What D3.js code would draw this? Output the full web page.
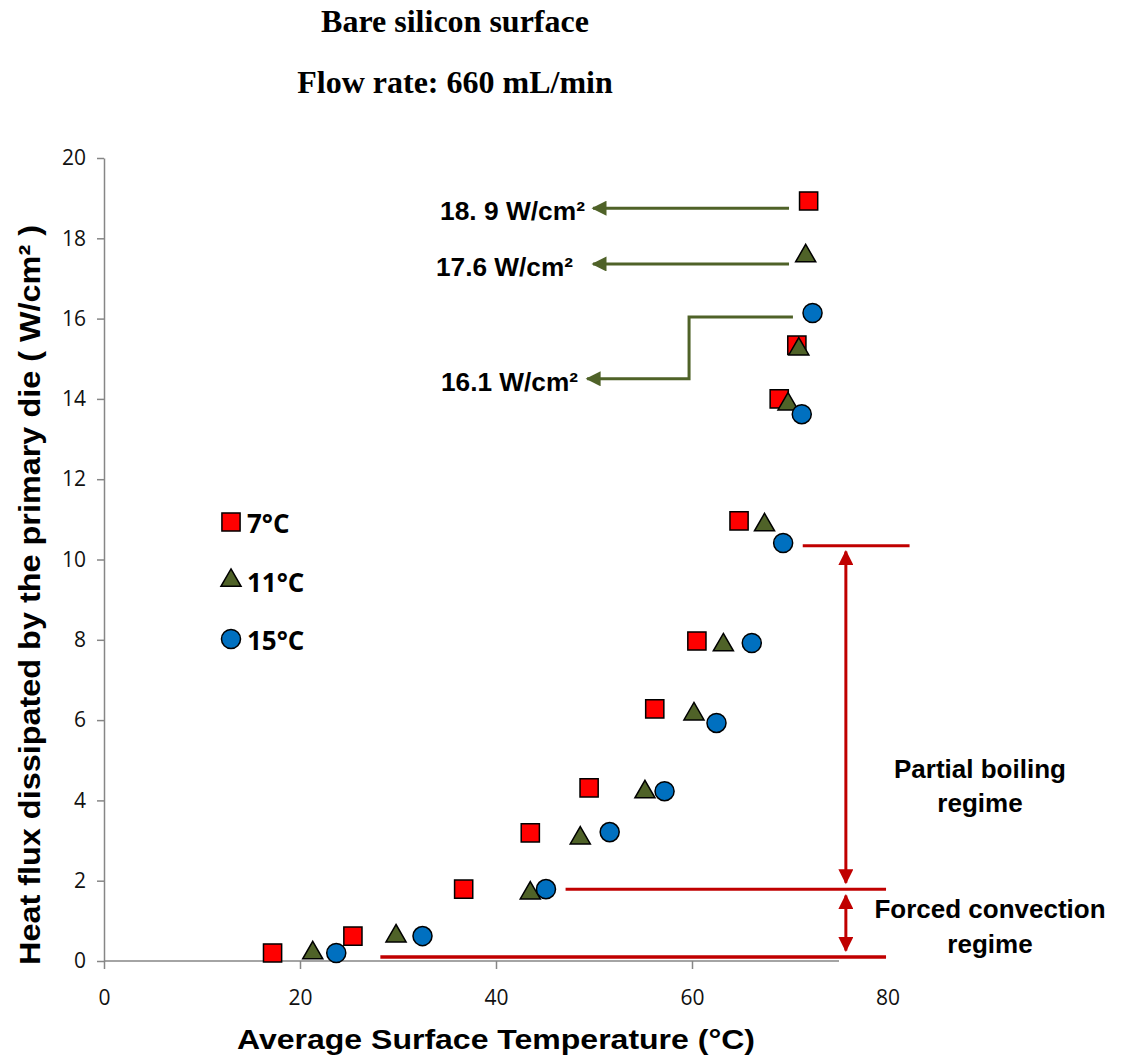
<!DOCTYPE html>
<html>
<head>
<meta charset="utf-8">
<script src="https://cdn.jsdelivr.net/npm/d3@7"></script>
<style>
  body { margin: 0; background: #fff; }
  svg { display: block; }
</style>
</head>
<body>
<figure id="chart" style="margin:0"></figure>
<script>
// surface temperature (°C) and heat flux (W/cm²) per inlet temperature
const temp7 = [17.2, 25.4, 36.7, 43.5, 49.5, 56.2, 60.5, 64.8, 68.9, 70.7, 71.9];
const flux7 = [0.2, 0.62, 1.79, 3.19, 4.31, 6.28, 7.97, 10.96, 14.0, 15.34, 18.93];
const temp11 = [21.3, 29.8, 43.5, 48.6, 55.2, 60.2, 63.2, 67.4, 69.8, 70.9, 71.6];
const flux11 = [0.2, 0.62, 1.69, 3.06, 4.21, 6.15, 7.87, 10.86, 13.87, 15.24, 17.56];
const temp15 = [23.7, 32.5, 45.1, 51.6, 57.2, 62.5, 66.1, 69.3, 71.2, 72.3];
const flux15 = [0.2, 0.62, 1.79, 3.21, 4.23, 5.93, 7.92, 10.41, 13.62, 16.14];

const seriesNames = ["7°C", "11°C", "15°C"];
const xTicks = [0, 20, 40, 60];
const yTicks = [0, 2, 4, 6, 8, 10, 12, 14, 16, 18, 20];
const peakLabels = ["18. 9 W/cm²", "17.6 W/cm²", "16.1 W/cm²"];

const width = 1125, height = 1057;
const fill = { sq: "#FF0000", tri: "#4F6228", circ: "#0070C0" };
const green = "#4F6228", red = "#C00000";

const svg = d3.select("#chart").append("svg")
  .attr("width", width).attr("height", height);

const defs = svg.append("defs");
function marker(id, color) {
  defs.append("marker")
    .attr("id", id).attr("viewBox", "0 0 10 10")
    .attr("refX", 9).attr("refY", 5)
    .attr("markerWidth", 5.5).attr("markerHeight", 5)
    .attr("markerUnits", "strokeWidth")
    .attr("orient", "auto-start-reverse")
    .append("path").attr("d", "M0,0 L10,5 L0,10 z").attr("fill", color);
}
marker("arrG", green);
marker("arrR", red);

// scales
const x = d3.scaleLinear().domain([0, 80]).range([104, 888]);
const y = d3.scaleLinear().domain([0, 20]).range([961, 158]);

// titles
const titleFont = "bold 32px 'Liberation Serif', 'Times New Roman', serif";
svg.append("text").attr("x", 455).attr("y", 32)
  .attr("text-anchor", "middle").style("font", titleFont)
  .text("Bare silicon surface");
svg.append("text").attr("x", 455).attr("y", 93)
  .attr("text-anchor", "middle").style("font", titleFont)
  .text("Flow rate: 660 mL/min");

// axes
const axisColor = "#868686";
const tickFont = "21px 'Open Sans', sans-serif";
const yAxis = svg.append("g").attr("transform", "translate(" + x(0) + ",0)")
  .call(d3.axisLeft(y).tickValues(yTicks).tickSize(7).tickSizeOuter(0).tickPadding(11));
yAxis.selectAll("text").style("font", tickFont).attr("fill", "#111");

const xAxis = svg.append("g").attr("transform", "translate(0," + y(0) + ")")
  .call(d3.axisBottom(x).tickValues(xTicks).tickSize(8).tickSizeOuter(0).tickPadding(0));
xAxis.select(".domain").attr("d", "M" + x(0) + ",0H" + x(75));
xAxis.selectAll("text").attr("dy", null).attr("y", 44)
  .style("font", tickFont).attr("fill", "#111");
svg.selectAll(".domain, .tick line").attr("stroke", axisColor).attr("stroke-width", 1.5);

// the "80" label sits by itself past the end of the axis
svg.append("text").attr("x", x(80)).attr("y", y(0) + 44)
  .attr("text-anchor", "middle")
  .style("font", tickFont).attr("fill", "#111")
  .text("80");

// axis titles
svg.append("text")
  .attr("transform", "translate(40,595) rotate(-90)")
  .attr("text-anchor", "middle")
  .attr("textLength", 740).attr("lengthAdjust", "spacingAndGlyphs")
  .style("font", "bold 30px 'Liberation Sans', Arial, sans-serif")
  .text("Heat flux dissipated by the  primary die ( W/cm² )");
svg.append("text").attr("x", 496).attr("y", 1049)
  .attr("text-anchor", "middle")
  .attr("textLength", 518).attr("lengthAdjust", "spacingAndGlyphs")
  .style("font", "bold 27px 'Liberation Sans', Arial, sans-serif")
  .text("Average Surface Temperature (°C)");

// annotation lines (drawn under markers)
const ann = svg.append("g");
function line(pts, color, w, mEnd, mStart) {
  const p = ann.append("path")
    .attr("d", d3.line().x(d => x(d[0])).y(d => y(d[1]))(pts))
    .attr("fill", "none").attr("stroke", color).attr("stroke-width", w);
  if (mEnd) p.attr("marker-end", "url(#" + mEnd + ")");
  if (mStart) p.attr("marker-start", "url(#" + mStart + ")");
}
// peak heat flux arrows
line([[69.9, 18.75], [49.9, 18.75]], green, 3, "arrG");
line([[69.9, 17.36], [49.9, 17.36]], green, 3, "arrG");
line([[70.3, 16.04], [59.7, 16.04], [59.7, 14.5], [49.3, 14.5]], green, 3, "arrG");
// regime boundaries
line([[71.3, 10.34], [82.2, 10.34]], red, 3);
line([[47.1, 1.79], [79.8, 1.79]], red, 3);
line([[28.2, 0.1], [79.8, 0.1]], red, 3.5);
line([[75.7, 10.2], [75.7, 1.95]], red, 3, "arrR", "arrR");
line([[75.7, 1.63], [75.7, 0.26]], red, 3, "arrR", "arrR");

const labFont = "bold 25px 'Liberation Sans', Arial, sans-serif";
[[220, 585, 145], [276, 573, 137], [391, 578, 137]].forEach((d, i) => {
  svg.append("text").attr("x", d[1] - d[2]).attr("y", d[0])
    .attr("textLength", d[2]).attr("lengthAdjust", "spacingAndGlyphs")
    .style("font", labFont).text(peakLabels[i]);
});
const regFont = "bold 26px 'Liberation Sans', Arial, sans-serif";
[["Partial boiling", 980, 778], ["regime", 980, 812],
 ["Forced convection", 990, 918], ["regime", 990, 953]].forEach(d => {
  svg.append("text").attr("x", d[1]).attr("y", d[2])
    .attr("text-anchor", "middle").style("font", regFont).text(d[0]);
});

// markers
const sym = {
  sq: d3.symbol().type(d3.symbolSquare).size(330),
  tri: d3.symbol().type(d3.symbolTriangle).size(175),
  circ: d3.symbol().type(d3.symbolCircle).size(285)
};
function drawSeries(xs, ys, kind) {
  svg.append("g").selectAll("path")
    .data(xs.map((v, i) => [v, ys[i]]))
    .join("path")
    .attr("d", sym[kind]())
    .attr("transform", d => "translate(" + x(d[0]) + "," + y(d[1]) + ")")
    .attr("fill", fill[kind]).attr("stroke", "#000").attr("stroke-width", 1.5);
}
drawSeries(temp7, flux7, "sq");
drawSeries(temp11, flux11, "tri");
drawSeries(temp15, flux15, "circ");

// legend
const legFont = "bold 26px 'Open Sans', 'Lato', sans-serif";
["sq", "tri", "circ"].forEach((k, i) => {
  const ly = 522 + i * 58.5;
  svg.append("path").attr("d", sym[k]())
    .attr("transform", "translate(231," + ly + ")")
    .attr("fill", fill[k]).attr("stroke", "#000").attr("stroke-width", 1.5);
  svg.append("text").attr("x", 247).attr("y", ly + 11)
    .style("font", legFont).text(seriesNames[i]);
});
</script>
</body>
</html>
